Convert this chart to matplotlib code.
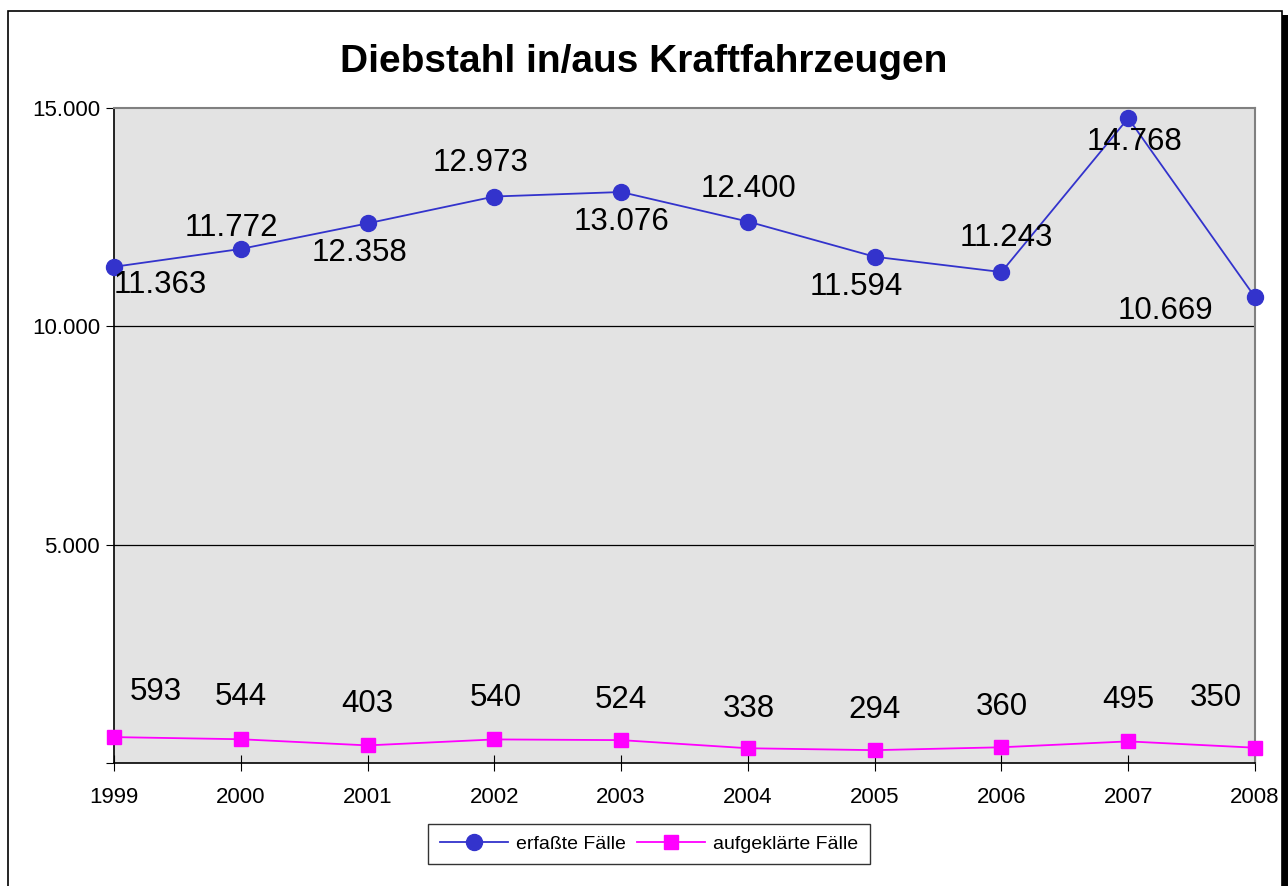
import matplotlib.pyplot as plt
from matplotlib.patches import Rectangle
from matplotlib.ticker import FuncFormatter

plt.rcParams['font.family'] = ['Liberation Sans', 'DejaVu Sans']

years = [1999, 2000, 2001, 2002, 2003, 2004, 2005, 2006, 2007, 2008]
erfasst = [11363, 11772, 12358, 12973, 13076, 12400, 11594, 11243, 14768, 10669]
aufgeklaert = [593, 544, 403, 540, 524, 338, 294, 360, 495, 350]

# label offsets in pixels (dx, dy) relative to the point
off_blue = [(46, -18), (-9, 21), (-8, -30), (-14, 34), (0, -30), (1, 33), (-18, -30), (5, 34), (6, -24), (-90, -14)]
off_mag = [(42, 45), (0, 42), (0, 41), (1, 41), (0, 40), (1, 39), (0, 40), (0, 40), (0, 41), (-39, 50)]

blue = '#3333CC'
magenta = '#FF00FF'


def fmt(v, pos=None):
    if v == 0:
        return ''
    return f'{int(v):,}'.replace(',', '.')


fig = plt.figure(figsize=(12.88, 8.86), dpi=100)
ax = fig.add_axes([114 / 1288, 1 - 763 / 886, (1255 - 114) / 1288, (763 - 108) / 886])
ax.set_facecolor('#E3E3E3')

ax.plot(years, erfasst, color=blue, lw=1.3, marker='o', ms=11.5, label='erfaßte Fälle', clip_on=False, zorder=3)
ax.plot(years, aufgeklaert, color=magenta, lw=1.3, marker='s', ms=10, label='aufgeklärte Fälle', clip_on=False, zorder=3)

for x, y, (dx, dy) in zip(years, erfasst, off_blue):
    ax.annotate(fmt(y), (x, y), xytext=(dx * 0.72, dy * 0.72), textcoords='offset points',
                ha='center', va='center', fontsize=22.5, zorder=4)
for x, y, (dx, dy) in zip(years, aufgeklaert, off_mag):
    ax.annotate(fmt(y), (x, y), xytext=(dx * 0.72, dy * 0.72), textcoords='offset points',
                ha='center', va='center', fontsize=22.5, zorder=4)

ax.set_xlim(1999, 2008)
ax.set_ylim(0, 15000)
ax.set_xticks(years)
ax.set_yticks([0, 5000, 10000, 15000])
ax.yaxis.set_major_formatter(FuncFormatter(fmt))
ax.tick_params(axis='x', direction='inout', length=12, labelsize=16, pad=11)
ax.tick_params(axis='y', direction='out', length=6, labelsize=16, pad=4)
for yv in [5000, 10000]:
    ax.axhline(yv, color='black', lw=0.9, zorder=1)
ax.spines['top'].set_color('#808080')
ax.spines['right'].set_color('#808080')
ax.spines['top'].set_linewidth(1.5)
ax.spines['right'].set_linewidth(1.5)
ax.spines['left'].set_linewidth(1.2)
ax.spines['bottom'].set_linewidth(1.2)

fig.text(644 / 1288, 1 - 62 / 886, 'Diebstahl in/aus Kraftfahrzeugen', ha='center', va='center',
         fontsize=28, fontweight='bold')

leg = fig.legend(loc='center', bbox_to_anchor=(649 / 1288, 1 - 844 / 886), ncol=2, fontsize=14,
                 frameon=True, fancybox=False, edgecolor='black', handlelength=3.5,
                 columnspacing=0.6, handletextpad=0.4, borderpad=0.6, borderaxespad=0)
leg.get_frame().set_linewidth(1.0)

# outer chart border with shadow
fig.patches.append(Rectangle((8 / 1288, -0.05), (1282 - 8) / 1288, 1.05 - 11 / 886,
                             transform=fig.transFigure, fill=False, edgecolor='black', lw=1.2))
fig.patches.append(Rectangle((1282 / 1288, 0), 6 / 1288, 1 - 15 / 886,
                             transform=fig.transFigure, facecolor='black', edgecolor='none'))

fig.savefig('out.png', dpi=100)
